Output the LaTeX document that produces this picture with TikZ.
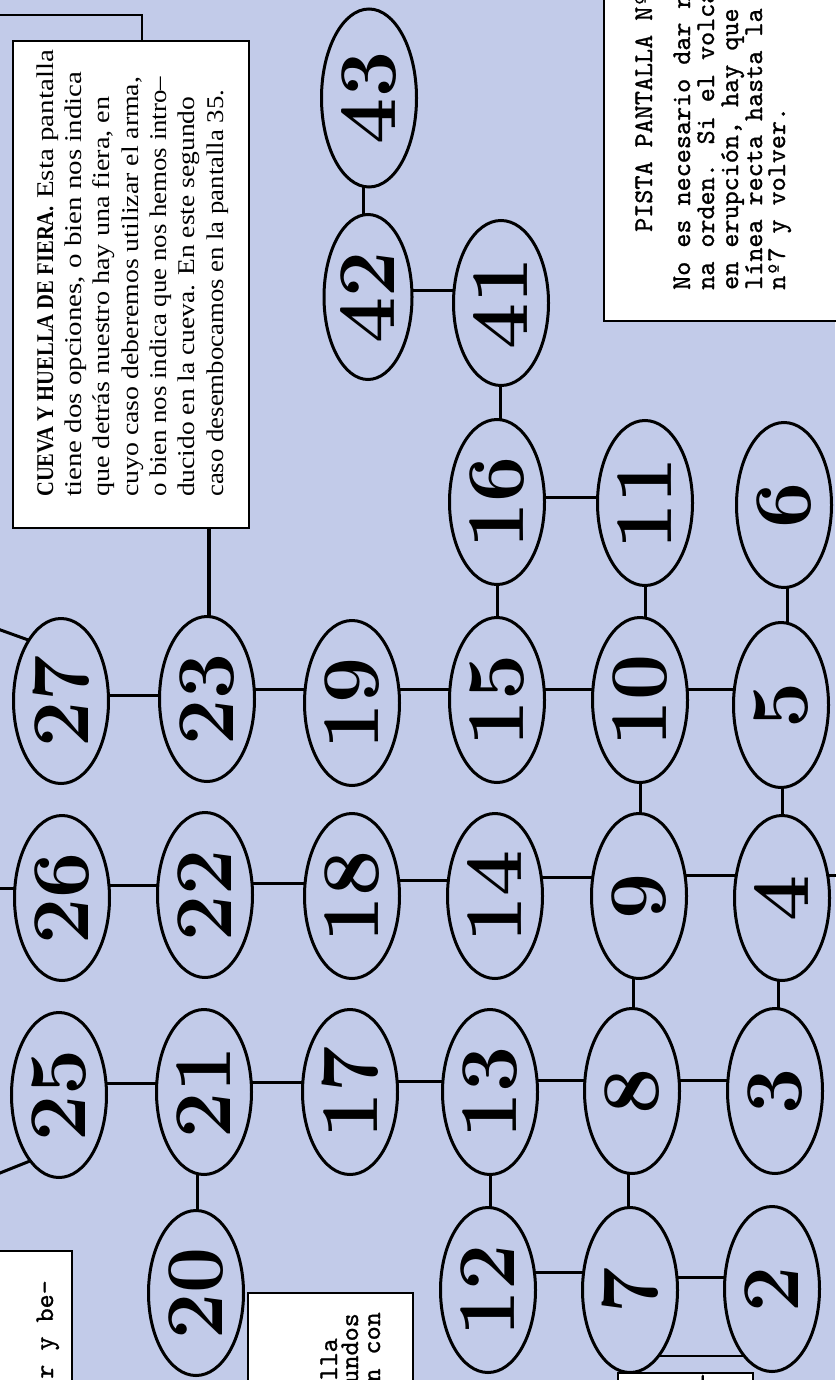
\documentclass[tikz,border=0pt]{standalone}
\usepackage{fontspec}
\usepackage{graphicx}
\newfontfamily\serfam{Liberation Serif}
\newfontfamily\monofam[FakeBold=1]{lmmono10-regular.otf}
\usetikzlibrary{shapes.geometric}
\definecolor{paper}{RGB}{194,203,233}
\pgfdeclarelayer{bottom}
\pgfdeclarelayer{lines}
\pgfsetlayers{bottom,lines,main}
\newlength\fitw
\newcommand\fitline[2]{\settowidth\fitw{#2}\scalebox{\fpeval{#1/\fitw}}[1]{#2}}
\begin{document}
\begin{tikzpicture}[x=1pt,y=-1pt,
  scr/.style={ellipse,draw,line width=3pt,fill=paper,rotate=90,minimum width=165pt,minimum height=95pt,inner sep=0pt,font=\fontsize{82}{82}\selectfont\bfseries},
  con/.style={line width=3pt},
  txtbox/.style={draw,line width=2pt,fill=white,inner sep=0pt},
  backline/.style={line width=2.5pt},
  cue/.style={rotate=90,anchor=base west,inner sep=0pt,font=\serfam\fontsize{24}{28}\selectfont},
  typ/.style={rotate=90,inner sep=0pt,font=\monofam\fontsize{26.8}{24}\selectfont},
]
\useasboundingbox (0,0) rectangle (835,1380);
\begin{pgfonlayer}{bottom}
\fill[paper] (0,0) rectangle (835,1380);
\end{pgfonlayer}

% box behind the CUEVA box
\draw[backline] (-10,15) -| (142,60);

% screens
\node[scr,minimum width=178pt] (n43) at (369,98) {43};
\node[scr,minimum height=88pt] (n42) at (368,297) {42};
\node[scr] (n41) at (501,303) {41};
\node[scr] (n16) at (497,502) {16};
\node[scr] (n11) at (645,503) {11};
\node[scr] (n6) at (784,505) {6};
\node[scr] (n27) at (61,701) {27};
\node[scr] (n23) at (207,699) {23};
\node[scr] (n19) at (352,703) {19};
\node[scr] (n15) at (497,700) {15};
\node[scr] (n10) at (640,700) {10};
\node[scr] (n5) at (781,705) {5};
\node[scr] (n26) at (62,898) {26};
\node[scr] (n22) at (205,895) {22};
\node[scr] (n18) at (352,896) {18};
\node[scr] (n14) at (495,896) {14};
\node[scr] (n9) at (639,896) {9};
\node[scr] (n4) at (782,898) {4};
\node[scr] (n25) at (59,1095) {25};
\node[scr] (n21) at (204,1092) {21};
\node[scr] (n17) at (350,1092) {17};
\node[scr] (n13) at (490,1092) {13};
\node[scr] (n8) at (632,1091) {8};
\node[scr] (n3) at (775,1091) {3};
\node[scr] (n20) at (196,1293) {20};
\node[scr] (n12) at (488,1290) {12};
\node[scr] (n7) at (630,1290) {7};
\node[scr] (n2) at (772,1289) {2};

% free ends
\coordinate (e27) at (-5,628);
\coordinate (e25) at (-5,1175);
\coordinate (e26) at (-5,888);
\coordinate (e4) at (840,875);

% CUEVA box
\node[txtbox,anchor=north west,minimum width=236pt,minimum height=487pt] (cueva) at (12,40) {};
\node[cue] (c1) at (53,497) {\fitline{447pt}{{\bfseries\scalebox{0.71}[1]{CUEVA Y HUELLA DE FIERA.}} Esta pantalla}};
\node[cue] (c2) at (81,497) {\fitline{425pt}{tiene dos opciones, o bien nos indica}};
\node[cue] (c3) at (109,497) {\fitline{400pt}{que detrás nuestro hay una fiera, en}};
\node[cue] (c4) at (138,497) {\fitline{420pt}{cuyo caso deberemos utilizar el arma,}};
\node[cue] (c5) at (166,497) {\fitline{420pt}{o bien nos indica que nos hemos intro–}};
\node[cue] (c6) at (194,497) {\fitline{400pt}{ducido en la cueva. En este segundo}};
\node[cue] (c7) at (223,497) {\fitline{407pt}{caso desembocamos en la pantalla 35.}};

% PISTA box
\node[txtbox,anchor=south west,minimum width=260pt,minimum height=360pt] (pista) at (603,322) {};
\node[typ,anchor=base west] (p0) at (652,232) {PISTA PANTALLA Nº};
\node[typ,anchor=base west] (p1) at (690,290) {No es necesario dar n};
\node[typ,anchor=base west] (p2) at (714,290) {na orden. Si el volcá};
\node[typ,anchor=base west] (p3) at (738,290) {en erupción, hay que};
\node[typ,anchor=base west] (p4) at (762,290) {línea recta hasta la};
\node[typ,anchor=base west] (p5) at (785,290) {nº7 y volver.};

% lower left box
\node[txtbox,anchor=north east,minimum width=120pt,minimum height=180pt] (boxa) at (73,1250) {};
\node[typ,anchor=base east] (a1) at (53,1280) {er y be–};

% box beside 20
\node[txtbox,anchor=north west,minimum width=165pt,minimum height=120pt] (boxb) at (247,1292) {};
\node[typ,anchor=base east] (b1) at (337,1338) {lla};
\node[typ,anchor=base east] (b2) at (358,1313) {undos};
\node[typ,anchor=base east] (b3) at (380,1312) {n con};

% box under 7 and 2
\node[txtbox,anchor=north west,minimum width=135pt,minimum height=60pt] (boxc) at (617,1372) {};
\node[typ,anchor=base east] (d1) at (711,1373) {–};

\begin{pgfonlayer}{lines}
% edge of the box behind, between 7 and 2
\draw[backline] (n7.center |- 0,1356) -- (n2.center |- 0,1356);
% rows
\draw[con] (n42.center |- 0,290) -- (n41.center |- 0,290);
\draw[con] (n16.center |- 0,497) -- (n11.center |- 0,497);
\draw[con] (n27.center |- 0,695) -- (n23.center |- 0,695);
\draw[con] (n23.center |- 0,689) -- (n19.center |- 0,689);
\draw[con] (n19.center |- 0,689) -- (n15.center |- 0,689);
\draw[con] (n15.center |- 0,689) -- (n10.center |- 0,689);
\draw[con] (n10.center |- 0,689) -- (n5.center |- 0,689);
\draw[con] (e26) -- (n26.center |- 0,888);
\draw[con] (n26.center |- 0,885) -- (n22.center |- 0,885);
\draw[con] (n22.center |- 0,883) -- (n18.center |- 0,883);
\draw[con] (n18.center |- 0,880) -- (n14.center |- 0,880);
\draw[con] (n14.center |- 0,877) -- (n9.center |- 0,877);
\draw[con] (n9.center |- 0,875) -- (n4.center |- 0,875);
\draw[con] (n4.center |- 0,875) -- (e4);
\draw[con] (n25.center |- 0,1083) -- (n21.center |- 0,1083);
\draw[con] (n21.center |- 0,1082) -- (n17.center |- 0,1082);
\draw[con] (n17.center |- 0,1081) -- (n13.center |- 0,1081);
\draw[con] (n13.center |- 0,1080) -- (n8.center |- 0,1080);
\draw[con] (n8.center |- 0,1080) -- (n3.center |- 0,1080);
\draw[con] (n12.center |- 0,1272) -- (n7.center |- 0,1272);
\draw[con] (n7.center |- 0,1277) -- (n2.center |- 0,1277);
% columns
\draw[con] (n43.center -| 363,0) -- (n42.center -| 363,0);
\draw[con] (n41.center -| 500,0) -- (n16.center -| 500,0);
\draw[con] (n16.center -| 497,0) -- (n15.center -| 497,0);
\draw[con] (n11.center -| 645,0) -- (n10.center -| 645,0);
\draw[con] (n6.center -| 787,0) -- (n5.center -| 787,0);
\draw[con] (n10.center -| 640,0) -- (n9.center -| 640,0);
\draw[con] (n5.center -| 782,0) -- (n4.center -| 782,0);
\draw[con] (n9.center -| 633,0) -- (n8.center -| 633,0);
\draw[con] (n4.center -| 778,0) -- (n3.center -| 778,0);
\draw[con] (n13.center -| 490,0) -- (n12.center -| 490,0);
\draw[con] (n8.center -| 628,0) -- (n7.center -| 628,0);
\draw[con] (n21.center -| 197,0) -- (n20.center -| 197,0);
\draw[line width=4pt] (cueva.center -| 209,0) -- (n23.center -| 209,0);
% diagonals to the left edge
\draw[con] (e27) -- ([shift={(-16,-55)}]n27.center);
\draw[con] (e25) -- ([shift={(-19,62)}]n25.center);
\end{pgfonlayer}
\end{tikzpicture}
\end{document}
